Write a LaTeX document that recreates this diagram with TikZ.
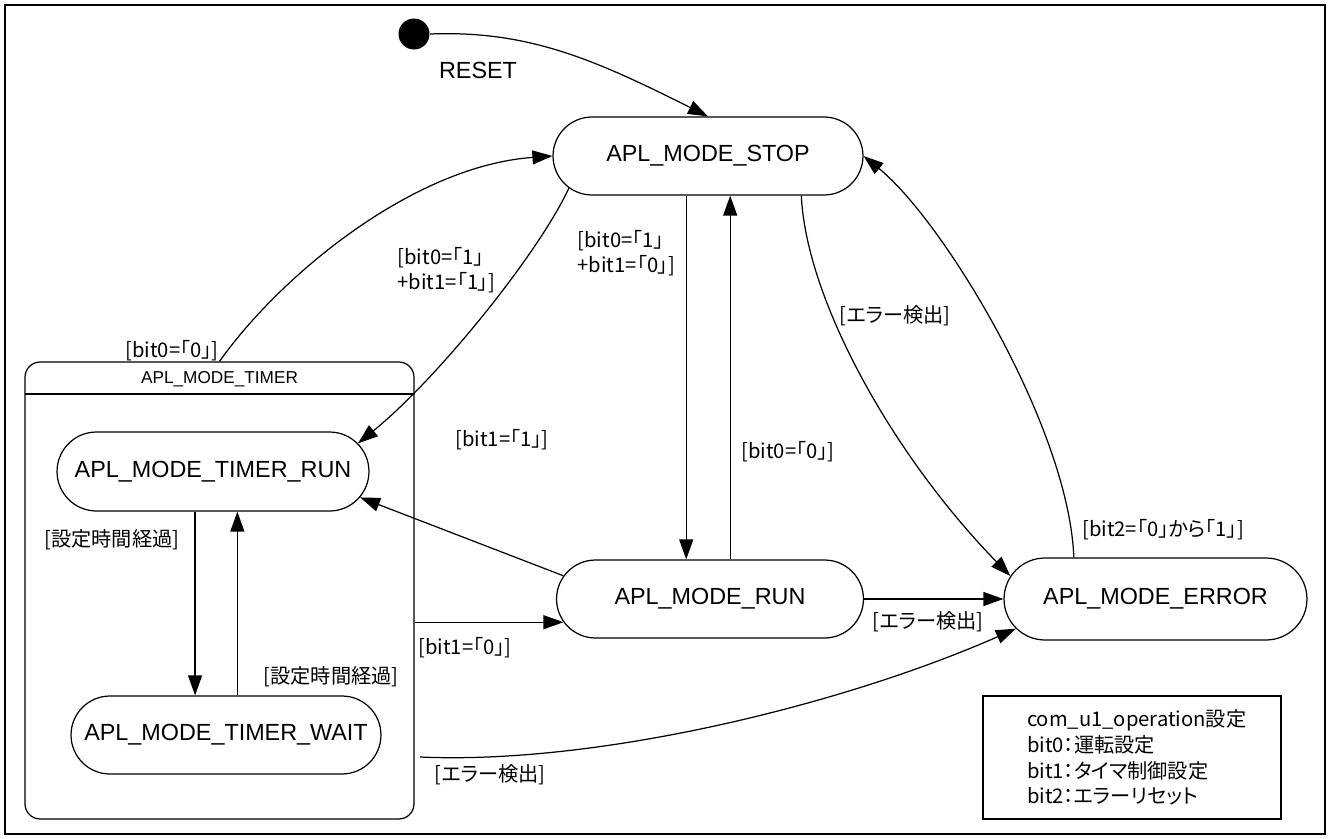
\documentclass[tikz,border=0pt]{standalone}
\usepackage{fontspec}
\setmainfont{Liberation Sans}
\newfontfamily\jpfont[RawFeature=+palt]{Noto Sans CJK JP}
\usetikzlibrary{arrows.meta,shapes.misc}

\begin{document}
\begin{tikzpicture}[x=0.02cm, y=-0.02cm, line width=0.7pt,
    state/.style={draw, rounded rectangle, minimum height=1.56cm, inner sep=0pt},
    big/.style={font=\fontsize{13.3}{16}\selectfont},
    cond/.style={font=\jpfont\fontsize{11.5}{14}\selectfont, inner sep=0pt},
    trans/.style={-{Triangle[length=0.4cm, width=0.28cm]}}]

  \useasboundingbox (0,0) rectangle (1330,839);
  \draw[line width=1.6pt] (5,5) rectangle (1325,834);

  % states
  \node[circle, fill, minimum size=0.62cm, inner sep=0pt] (init) at (414,34) {};
  \node[big] (reset) at (478,70) {RESET};
  \node[state, minimum width=6.2cm, label={[big]center:APL\_MODE\_STOP}] (stop) at (708,156) {};
  \node[state, minimum width=6.14cm, label={[big]center:APL\_MODE\_RUN}] (run) at (710,599) {};
  \node[state, minimum width=6.06cm, minimum height=1.64cm, label={[big]center:APL\_MODE\_ERROR}] (error) at (1155.5,599) {};

  % composite state
  \node[draw, rounded corners=0.3cm, minimum width=7.78cm, minimum height=9.14cm] (timer) at (219.5,590.5) {};
  \draw (25,394) -- (414,394);
  \node[font=\fontsize{9.8}{12}\selectfont] (timertitle) at (219.5,379) {APL\_MODE\_TIMER};
  \node[state, minimum width=6.24cm, minimum height=1.58cm, label={[big]center:APL\_MODE\_TIMER\_RUN}] (trun) at (213,471.5) {};
  \node[state, minimum width=6.2cm, label={[big]center:APL\_MODE\_TIMER\_WAIT}] (twait) at (226,735) {};
  \coordinate (tout) at (420,757);

  \node[draw, font=\jpfont\fontsize{11.5}{14.7}\selectfont, text width=4.2cm, align=left,
        inner xsep=0.88cm, minimum height=2.46cm] (legend) at (1132,757.5)
        {com\_u1\_operation設定\\bit0：運転設定\\bit1：タイマ制御設定\\bit2：エラーリセット};

  % transitions
  \draw[trans] (init.east) .. controls +(100,-4) and +(-110,-55) .. (stop.north);
  \draw[trans] (timer.north) .. controls +(60,-85) and +(-140,10) .. (stop.west);
  \draw[trans] (stop.-167) .. controls +(-30,65) and +(80,-65) .. (trun.11);
  \draw[trans] (run.121 |- stop.south) -- (run.121);
  \draw[trans] (run.63) -- (run.63 |- stop.south);
  \draw[trans] (stop.-23) .. controls +(5,105) and +(-117,-120) .. (error.171);
  \draw[trans] (error.153) .. controls +(-5,-130) and +(80,65) .. (stop.east);
  \draw[trans] (run.171) -- (trun.-10);
  \draw[trans] (timer.east |- run.-171) -- (run.-171);
  \draw[trans] (run.east) -- (error.west);
  \draw[trans] (tout) .. controls +(180,8) and +(-170,75) .. (error.-168);
  \draw[trans] (trun.south -| twait.128) -- (twait.128);
  \draw[trans] (twait.74) -- (twait.74 |- trun.south);

  % guards
  \node[cond] (cstop) at (172,351) {[bit0=「0」]};
  \node[cond, align=left, anchor=west] (ctimer) at (397,270) {[bit0=「1」\\+bit1=「1」]};
  \node[cond, align=left, anchor=west] (crun) at (577,253) {[bit0=「1」\\+bit1=「0」]};
  \node[cond] (cback) at (788,452) {[bit0=「0」]};
  \node[cond] (cerr1) at (895,316) {[エラー検出]};
  \node[cond] (creset) at (1163,530) {[bit2=「0」から「1」]};
  \node[cond] (ctrun) at (502,440) {[bit1=「1」]};
  \node[cond] (center) at (465,648) {[bit1=「0」]};
  \node[cond] (cerr2) at (928,622) {[エラー検出]};
  \node[cond] (cerr3) at (490,775) {[エラー検出]};
  \node[cond] (cwait) at (112,540) {[設定時間経過]};
  \node[cond] (cresume) at (331,677) {[設定時間経過]};
\end{tikzpicture}
\end{document}
